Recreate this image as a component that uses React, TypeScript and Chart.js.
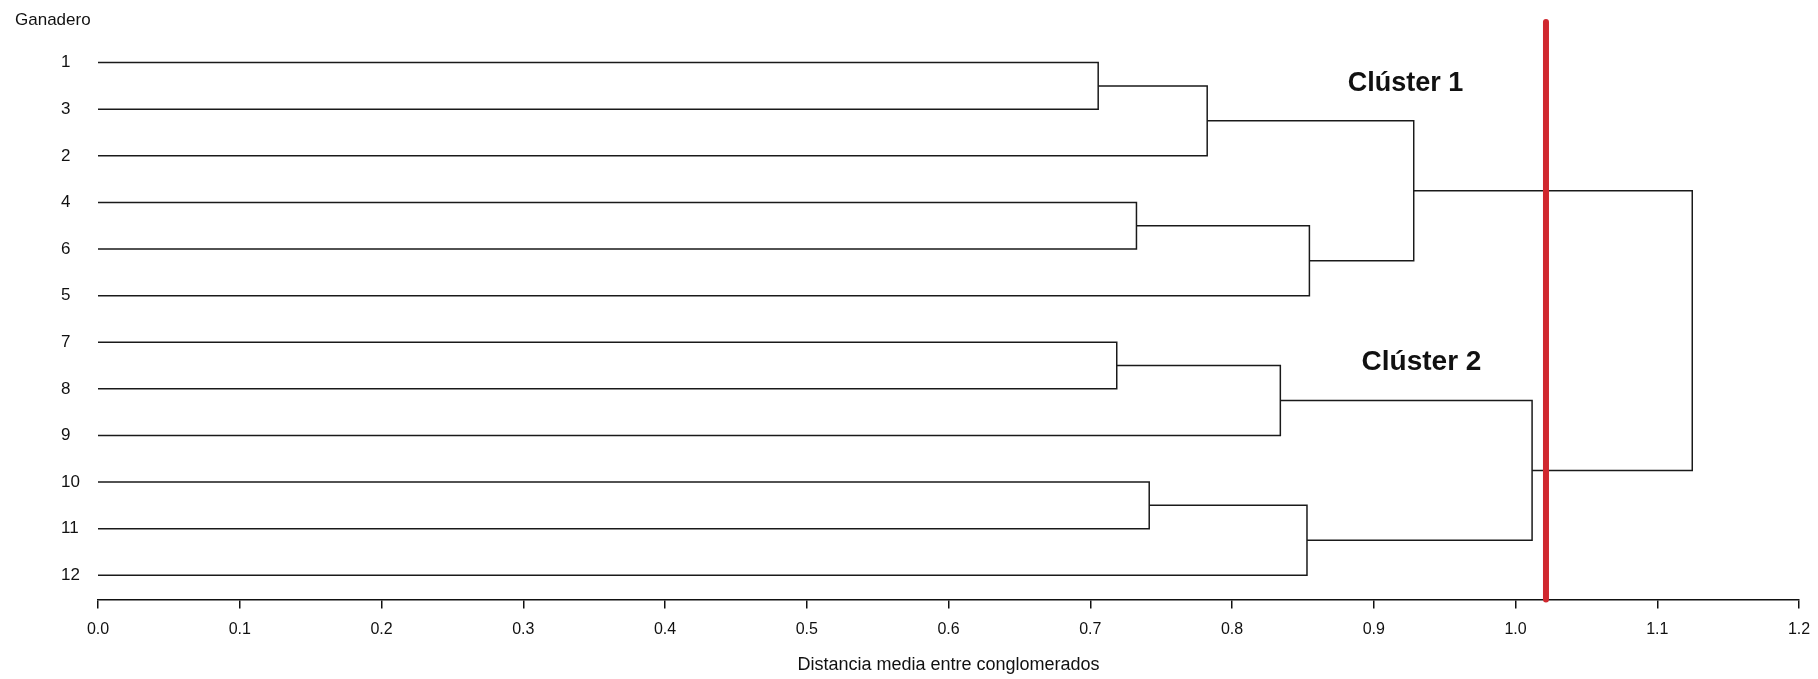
import React, { useEffect, useRef } from 'react';
import { Chart, registerables } from 'chart.js';

Chart.register(...registerables);

// Leaf order (top to bottom) as shown on the dendrogram
const leafLabels = ['1', '3', '2', '4', '6', '5', '7', '8', '9', '10', '11', '12'];
// Agglomeration steps: node A + node B merged at the given height (m# = result of step #)
const mergeA = ['1', '4', '7', '10', 'm1', 'm2', 'm3', 'm4', 'm5', 'm7', 'm9'];
const mergeB = ['3', '6', '8', '11', '2', '5', '9', '12', 'm6', 'm8', 'm10'];
const mergeHeights = [0.7056, 0.7326, 0.7187, 0.7416, 0.7825, 0.8546, 0.8341, 0.8529, 0.9282, 1.0117, 1.1247];
// Cut line
const cutHeight = 1.0215;
// Axis
const xMin = 0;
const xMax = 1.2;
const xStep = 0.1;
const xTitle = 'Distancia media entre conglomerados';
const yTitle = 'Ganadero';
// Cluster annotations (data coordinates: distance, row position)
const clusterNames = ['Clúster 1', 'Clúster 2'];
const clusterX = [0.9224, 0.9337];
const clusterY = [1.445, 7.435];

const FONT = '"Liberation Sans", Arial, sans-serif';

function buildSegments() {
  const nodeY: Record<string, number> = {};
  const nodeH: Record<string, number> = {};
  leafLabels.forEach((l, i) => {
    nodeY[l] = i + 1;
    nodeH[l] = 0;
  });
  const segs: { x: number; y: number }[][] = [];
  mergeHeights.forEach((h, i) => {
    const a = mergeA[i];
    const b = mergeB[i];
    const id = 'm' + (i + 1);
    nodeY[id] = (nodeY[a] + nodeY[b]) / 2;
    nodeH[id] = h;
    segs.push([
      { x: nodeH[a], y: nodeY[a] },
      { x: h, y: nodeY[a] },
      { x: h, y: nodeY[b] },
      { x: nodeH[b], y: nodeY[b] },
    ]);
  });
  return segs;
}

const annotPlugin = {
  id: 'annot',
  afterDatasetsDraw(chart: any) {
    const { ctx, scales } = chart;
    ctx.save();
    ctx.fillStyle = '#111';
    ctx.font = `17px ${FONT}`;
    ctx.textAlign = 'left';
    ctx.textBaseline = 'middle';
    ctx.fillText(yTitle, 15, 20);
    ctx.textAlign = 'center';
    clusterNames.forEach((name, i) => {
      ctx.font = `bold ${i === 0 ? 27 : 28}px ${FONT}`;
      ctx.fillText(name, scales.x.getPixelForValue(clusterX[i]), scales.y.getPixelForValue(clusterY[i]));
    });
    ctx.restore();
  },
};

export default function App() {
  const ref = useRef<HTMLCanvasElement | null>(null);
  useEffect(() => {
    if (!ref.current) return;
    const segs = buildSegments();
    const datasets: any[] = [
      {
        label: 'corte',
        data: [
          { x: cutHeight, y: 0.13 },
          { x: cutHeight, y: 12.52 },
        ],
        borderColor: '#d0282f',
        borderWidth: 6,
        borderCapStyle: 'round',
        pointRadius: 0,
        clip: false,
        order: -1,
      },
      ...segs.map((s, i) => ({
        label: 'm' + (i + 1),
        data: s,
        borderColor: '#1a1a1a',
        borderWidth: 1.5,
        pointRadius: 0,
        borderJoinStyle: 'miter',
        order: 1,
      })),
    ];
    const chart = new Chart(ref.current, {
      type: 'scatter',
      data: { datasets },
      plugins: [annotPlugin],
      options: {
        animation: false,
        responsive: false,
        devicePixelRatio: 1,
        showLine: true,
        layout: { autoPadding: false, padding: { left: 61, right: 19, top: 16, bottom: 0 } },
        plugins: { legend: { display: false }, tooltip: { enabled: false } },
        scales: {
          x: {
            type: 'linear',
            min: xMin,
            max: xMax,
            afterFit: (s: any) => {
              s.paddingLeft = 0;
              s.paddingRight = 0;
            },
            ticks: {
              stepSize: xStep,
              callback: (v: any) => Number(v).toFixed(1),
              font: { family: FONT, size: 16, lineHeight: 1.2 },
              color: '#111',
              padding: 11,
              maxRotation: 0,
              autoSkip: false,
            },
            grid: { display: true, drawOnChartArea: false, tickLength: 9, color: '#111', lineWidth: 1.5 },
            border: { display: true, color: '#111', width: 1.5 },
            title: {
              display: true,
              text: xTitle,
              font: { family: FONT, size: 18, lineHeight: 1.2 },
              color: '#111',
              padding: { top: 4.7, bottom: 3 },
            },
          },
          y: {
            type: 'linear',
            reverse: true,
            min: 0,
            max: 12.52,
            afterFit: (s: any) => {
              s.width = 37;
              s.paddingTop = 0;
              s.paddingBottom = 0;
            },
            afterBuildTicks: (s: any) => {
              s.ticks = leafLabels.map((_, i) => ({ value: i + 1 }));
            },
            ticks: {
              callback: (v: any) => leafLabels[Math.round(Number(v)) - 1] ?? '',
              font: { family: FONT, size: 17 },
              color: '#111',
              padding: 0,
              crossAlign: 'far',
              autoSkip: false,
            },
            grid: { display: false, drawTicks: false },
            border: { display: false },
          },
        },
      } as any,
    });
    return () => chart.destroy();
  }, []);
  return (
    <div style={{ position: 'absolute', left: 0, top: 0, width: 1818, height: 679, background: '#fff' }}>
      <canvas ref={ref} width={1818} height={679} />
    </div>
  );
}
